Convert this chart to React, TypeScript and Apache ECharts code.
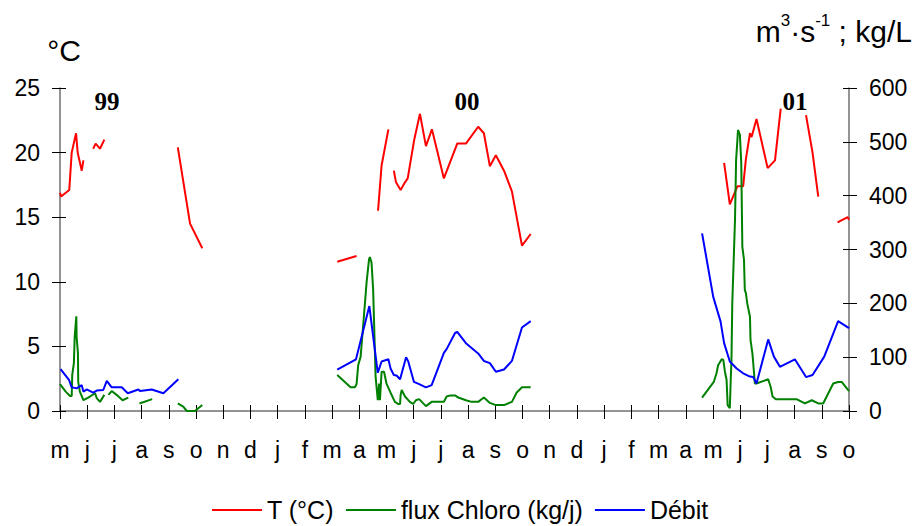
import React, { useEffect, useRef } from 'react';
import * as echarts from 'echarts';

const monthLabels = ['m', 'j', 'j', 'a', 's', 'o', 'n', 'd', 'j', 'f', 'm', 'a', 'm', 'j', 'j', 'a', 's', 'o', 'n', 'd', 'j', 'f', 'm', 'a', 'm', 'j', 'j', 'a', 's', 'o'];

const yearLabels = ['99', '00', '01'];

// [month position, °C] ; null = gap
const temperature: [number, number | null][] = [
  [0, 16.9], [0.04, 16.6], [0.34, 17.1], [0.43, 20.0], [0.59, 21.5], [0.65, 20.0], [0.8, 18.6], [0.86, 19.4], [1.0, null],
  [1.22, 20.3], [1.31, 20.7], [1.47, 20.3], [1.63, 21.0], [3.0, null],
  [4.33, 20.4], [4.78, 14.5], [5.23, 12.6], [8.0, null],
  [10.19, 11.55], [10.9, 12.0], [11.3, null],
  [11.69, 15.5], [11.82, 19.0], [12.07, 21.8], [12.17, null],
  [12.27, 18.6], [12.35, 17.7], [12.52, 17.1], [12.68, 17.7], [12.78, 18.0], [13.02, 21.0], [13.23, 23.0], [13.45, 20.5],
  [13.67, 21.8], [14.11, 18.0], [14.6, 20.7], [14.92, 20.7], [15.37, 22.0], [15.58, 21.5], [15.8, 18.95], [16.02, 19.8],
  [16.32, 18.6], [16.61, 17.0], [16.98, 12.8], [17.3, 13.7], [20.0, null],
  [24.41, 19.2], [24.62, 16.0], [24.9, 17.4], [25.11, 17.4], [25.21, 19.5], [25.36, 21.5], [25.42, 21.2], [25.6, 22.6],
  [26.01, 18.8], [26.28, 19.4], [26.49, 23.4], [27.0, null],
  [27.42, 22.9], [27.66, 20.0], [27.87, 16.6], [28.2, null],
  [28.58, 14.6], [28.95, 15.0], [29.0, 14.8],
];

// [month position, kg/j]
const fluxChloro: [number, number | null][] = [
  [0, 50], [0.21, 36], [0.37, 28], [0.43, 28], [0.45, 67], [0.51, 89], [0.54, 138], [0.6, 176], [0.61, 138], [0.66, 107],
  [0.67, 54], [0.73, 36], [0.86, 20], [1.04, 25], [1.29, 33], [1.35, 24], [1.47, 17], [1.63, 30], [1.7, null],
  [1.78, 30], [1.9, 37], [2.08, 30], [2.3, 20], [2.51, 25], [2.7, null],
  [2.92, 14], [3.39, 22], [3.8, null],
  [4.33, 14], [4.53, 8], [4.66, 0], [4.96, 0], [5.23, 11], [8.0, null],
  [10.19, 67], [10.68, 44], [10.84, 44], [10.9, 50], [10.96, 85], [11.05, 101], [11.15, 163], [11.27, 240], [11.36, 282],
  [11.39, 286], [11.45, 276], [11.51, 225], [11.6, 64], [11.68, 20], [11.73, 51], [11.76, 20], [11.82, 73], [11.91, 73],
  [12.0, 51], [12.15, 34], [12.31, 17], [12.43, 13], [12.5, 13], [12.52, 30], [12.56, 39], [12.68, 27], [12.86, 17],
  [12.98, 13], [13.08, 20], [13.2, 22], [13.45, 9], [13.66, 17], [14.11, 17], [14.21, 27], [14.36, 29], [14.52, 29],
  [14.64, 25], [14.92, 20], [15.13, 17], [15.37, 17], [15.58, 25], [15.8, 15], [16.02, 11], [16.32, 11], [16.61, 17],
  [16.78, 34], [16.98, 44], [17.3, 44], [20.0, null],
  [23.6, 25], [24.03, 54], [24.13, 70], [24.19, 85], [24.32, 96], [24.38, 95], [24.44, 73], [24.5, 58], [24.54, 11],
  [24.62, 5], [24.65, 54], [24.68, 95], [24.71, 200], [24.81, 355], [24.85, 466], [24.89, 497], [24.92, 522], [24.99, 513],
  [25.04, 460], [25.08, 305], [25.14, 281], [25.17, 225], [25.21, 219], [25.26, 200], [25.36, 175], [25.38, 132],
  [25.45, 107], [25.48, 89], [25.54, 51], [25.6, 51], [26.03, 59], [26.12, 45], [26.19, 27], [26.31, 22], [27.07, 22],
  [27.38, 14], [27.63, 20], [27.87, 14], [28.05, 14], [28.42, 51], [28.6, 54], [28.73, 54], [29.0, 37],
];

// [month position, m3/s]
const debit: [number, number | null][] = [
  [0.02, 78], [0.33, 58], [0.43, 44], [0.61, 42], [0.8, 48], [0.86, 36], [0.98, 40], [1.22, 34], [1.35, 38], [1.59, 39],
  [1.72, 56], [1.9, 44], [2.27, 44], [2.49, 33], [2.88, 40], [2.94, 37], [3.37, 40], [3.8, 33], [4.35, 59], [7.0, null],
  [10.19, 77], [10.88, 96], [11.37, 195], [11.68, 71], [11.82, 92], [12.07, 96], [12.15, 79], [12.27, 67], [12.37, 66],
  [12.5, 59], [12.72, 100], [12.8, 92], [13.01, 54], [13.2, 50], [13.45, 44], [13.66, 48], [14.11, 108], [14.21, 115],
  [14.52, 145], [14.6, 147], [14.92, 126], [15.37, 107], [15.58, 93], [15.8, 89], [16.02, 73], [16.32, 77], [16.61, 93],
  [16.98, 155], [17.3, 167], [20.0, null],
  [23.6, 330], [24.01, 212], [24.28, 166], [24.41, 126], [24.62, 92], [24.87, 79], [25.11, 70], [25.36, 64], [25.48, 63],
  [25.6, 51], [26.03, 133], [26.24, 101], [26.46, 82], [27.01, 96], [27.42, 63], [27.66, 67], [28.09, 101], [28.6, 167],
  [29.0, 154],
];

const FONT = '"Liberation Sans", Arial, sans-serif';
const SERIF = '"Liberation Serif", "Times New Roman", serif';

export default function App() {
  const ref = useRef<HTMLDivElement>(null);
  useEffect(() => {
    const chart = echarts.init(ref.current!, null, { renderer: 'svg' });
    const axisLineStyle = { color: '#707070', width: 1.5 };
    const tickStyle = { color: '#000', width: 1 };
    const xBase = { type: 'value', min: 0, max: 29, interval: 1, splitLine: { show: false } };
    const yLeftBase = { type: 'value', min: 0, max: 25, interval: 5, position: 'left', splitLine: { show: false } };
    const yRightBase = { type: 'value', min: 0, max: 600, interval: 100, position: 'right', splitLine: { show: false } };
    const lbl = { color: '#000', fontSize: 23, fontFamily: FONT };
    chart.setOption({
      animation: false,
      backgroundColor: '#fff',
      textStyle: { fontFamily: FONT },
      grid: { left: 60, right: 66, top: 88, bottom: 115 },
      xAxis: [
        {
          ...xBase,
          position: 'bottom',
          axisLine: { show: true, onZero: false, lineStyle: axisLineStyle },
          axisTick: { show: true, length: 8, lineStyle: tickStyle },
          axisLabel: { ...lbl, margin: 27, formatter: (v: number) => monthLabels[Math.round(v)] ?? '' },
        },
        {
          ...xBase,
          position: 'bottom',
          axisLine: { show: false, onZero: false },
          axisTick: { show: true, inside: true, length: 6, lineStyle: tickStyle },
          axisLabel: { show: false },
        },
      ],
      yAxis: [
        {
          ...yLeftBase,
          axisLine: { show: true, onZero: false, lineStyle: axisLineStyle },
          axisTick: { show: true, length: 8, lineStyle: tickStyle },
          axisLabel: { ...lbl, margin: 20 },
        },
        {
          ...yRightBase,
          axisLine: { show: true, onZero: false, lineStyle: axisLineStyle },
          axisTick: { show: true, length: 8, lineStyle: tickStyle },
          axisLabel: { ...lbl, margin: 20 },
        },
        {
          ...yLeftBase,
          axisLine: { show: false, onZero: false },
          axisTick: { show: true, inside: true, length: 6, lineStyle: tickStyle },
          axisLabel: { show: false },
        },
        {
          ...yRightBase,
          axisLine: { show: false, onZero: false },
          axisTick: { show: true, inside: true, length: 6, lineStyle: tickStyle },
          axisLabel: { show: false },
        },
      ],
      legend: {
        data: ['T (°C)', 'flux Chloro (kg/j)', 'Débit'],
        top: 496,
        left: 212,
        padding: 0,
        icon: 'rect',
        itemWidth: 50,
        itemHeight: 2,
        itemGap: 12,
        textStyle: { color: '#000', fontSize: 25, fontFamily: FONT, lineHeight: 28 },
      },
      series: [
        {
          name: 'T (°C)', type: 'line', xAxisIndex: 0, yAxisIndex: 0, data: temperature,
          showSymbol: false, symbol: 'none', connectNulls: false, color: '#ff0000',
          lineStyle: { color: '#ff0000', width: 2 },
        },
        {
          name: 'flux Chloro (kg/j)', type: 'line', xAxisIndex: 0, yAxisIndex: 1, data: fluxChloro,
          showSymbol: false, symbol: 'none', connectNulls: false, color: '#008000',
          lineStyle: { color: '#008000', width: 2 },
        },
        {
          name: 'Débit', type: 'line', xAxisIndex: 0, yAxisIndex: 1, data: debit,
          showSymbol: false, symbol: 'none', connectNulls: false, color: '#0000ff',
          lineStyle: { color: '#0000ff', width: 2 },
        },
      ],
      graphic: [
        {
          type: 'text', x: 64, y: 50,
          style: { text: '°C', fill: '#000', font: `30px ${FONT}`, align: 'center', verticalAlign: 'middle' },
        },
        {
          type: 'text', x: 912, y: 29,
          style: {
            text: '{a|m}{s|3}{a|·s}{s|-1}{a| ; kg/L}',
            align: 'right', verticalAlign: 'middle',
            rich: {
              a: { fontSize: 30, fontFamily: FONT, fill: '#000', lineHeight: 34, verticalAlign: 'bottom' },
              s: { fontSize: 17, fontFamily: FONT, fill: '#000', lineHeight: 34, verticalAlign: 'top' },
            },
          },
        },
        {
          type: 'text', x: 107, y: 101,
          style: { text: yearLabels[0], fill: '#000', font: `bold 25px ${SERIF}`, align: 'center', verticalAlign: 'middle' },
        },
        {
          type: 'text', x: 467, y: 101,
          style: { text: yearLabels[1], fill: '#000', font: `bold 25px ${SERIF}`, align: 'center', verticalAlign: 'middle' },
        },
        {
          type: 'text', x: 795, y: 101,
          style: { text: yearLabels[2], fill: '#000', font: `bold 25px ${SERIF}`, align: 'center', verticalAlign: 'middle' },
        },
      ],
    });
    return () => chart.dispose();
  }, []);
  return <div ref={ref} style={{ position: 'absolute', left: 0, top: 0, width: 915, height: 526 }} />;
}
